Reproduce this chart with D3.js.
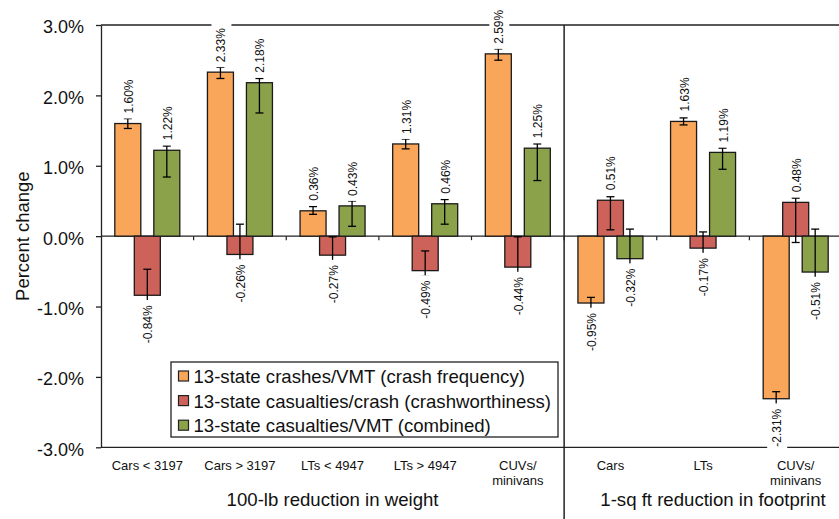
<!DOCTYPE html>
<html>
<head>
<meta charset="utf-8">
<script src="https://cdn.jsdelivr.net/npm/d3@7"></script>
<style>
  body { margin: 0; background: #fff; }
  svg { display: block; font-family: Arial, "Liberation Sans", sans-serif; }
</style>
</head>
<body>
<div id="chart"></div>
<script>
// categories (two groups: weight reduction, footprint reduction)
var categories = ["Cars < 3197", "Cars > 3197", "LTs < 4947", "LTs > 4947", "CUVs/|minivans",
                  "Cars", "LTs", "CUVs/|minivans"];
var groupLabels = ["100-lb reduction in weight", "1-sq ft reduction in footprint"];
var seriesNames = ["13-state crashes/VMT (crash frequency)",
                   "13-state casualties/crash (crashworthiness)",
                   "13-state casualties/VMT (combined)"];
var seriesColors = ["#F9A65A", "#CD625B", "#8BA24B"];

// values in percent
var crashFreq  = [1.60, 2.33, 0.36, 1.31, 2.59, -0.95, 1.63, -2.31];
var crashWorth = [-0.84, -0.26, -0.27, -0.49, -0.44, 0.51, -0.17, 0.48];
var combined   = [1.22, 2.18, 0.43, 0.46, 1.25, -0.32, 1.19, -0.51];

// error bar ends
var crashFreqLow   = [1.53, 2.24, 0.31, 1.24, 2.50, -1.04, 1.58, -2.40];
var crashFreqHigh  = [1.67, 2.40, 0.42, 1.38, 2.66, -0.87, 1.68, -2.21];
var crashWorthLow  = [-0.92, -0.34, -0.35, -0.57, -0.52, 0.09, -0.25, -0.09];
var crashWorthHigh = [-0.47, 0.17, -0.01, -0.21, -0.01, 0.56, 0.06, 0.54];
var combinedLow    = [0.84, 1.75, 0.14, 0.17, 0.79, -0.42, 0.95, -0.60];
var combinedHigh   = [1.28, 2.24, 0.50, 0.52, 1.31, 0.10, 1.25, 0.10];

var yTicks = [-3, -2, -1, 0, 1, 2, 3];

var W = 839, H = 519;
var plotLeft = 101, plotRight = 842, plotTop = 25, plotBottom = 447.3;

var series = [
  {name: seriesNames[0], color: seriesColors[0], values: crashFreq, low: crashFreqLow, high: crashFreqHigh},
  {name: seriesNames[1], color: seriesColors[1], values: crashWorth, low: crashWorthLow, high: crashWorthHigh},
  {name: seriesNames[2], color: seriesColors[2], values: combined, low: combinedLow, high: combinedHigh}
];

var svg = d3.select("#chart").append("svg")
  .attr("width", W).attr("height", H);

var x = d3.scaleBand()
  .domain(d3.range(categories.length))
  .range([plotLeft, plotRight])
  .padding(0);

var xOff = d3.scalePoint()
  .domain(d3.range(series.length))
  .range([-19.5, 19.5]);

var barW = 26;

var y = d3.scaleLinear()
  .domain([-3, 3])
  .range([plotBottom, plotTop]);

// frame lines
var lineCol = "#222";
svg.append("line").attr("x1", plotLeft).attr("x2", W).attr("y1", y(3)).attr("y2", y(3))
  .attr("stroke", lineCol).attr("stroke-width", 1.3);
svg.append("line").attr("x1", plotLeft).attr("x2", W).attr("y1", y(-3)).attr("y2", y(-3))
  .attr("stroke", lineCol).attr("stroke-width", 1.3);
svg.append("line").attr("x1", plotLeft).attr("x2", W).attr("y1", y(0)).attr("y2", y(0))
  .attr("stroke", lineCol).attr("stroke-width", 1.3);

// category boundary ticks on the zero line
svg.selectAll(".ctick")
  .data(d3.range(1, categories.length))
  .enter().append("line")
  .attr("class", "ctick")
  .attr("x1", function(d) { return x(d) })
  .attr("x2", function(d) { return x(d) })
  .attr("y1", y(0))
  .attr("y2", y(0) + 4)
  .attr("stroke", lineCol).attr("stroke-width", 1.2);

// divider between the two groups
svg.append("line")
  .attr("x1", x(5)).attr("x2", x(5))
  .attr("y1", y(3)).attr("y2", H)
  .attr("stroke", lineCol).attr("stroke-width", 1.5);

// y axis
var yAxis = svg.append("g")
  .attr("transform", "translate(" + plotLeft + ",0)")
  .call(d3.axisLeft(y)
    .tickValues(yTicks)
    .tickSize(5)
    .tickSizeOuter(0)
    .tickPadding(12)
    .tickFormat(function(d) { return d.toFixed(1) + "%" }));
yAxis.selectAll("path, line").attr("stroke", lineCol).attr("stroke-width", 1.3);
yAxis.selectAll("text")
  .attr("font-size", 18)
  .attr("font-family", "Arial, 'Liberation Sans', sans-serif")
  .attr("fill", "#111")
  .attr("dy", "0.44em");

svg.append("text")
  .attr("transform", "translate(29," + y(0) + ") rotate(-90)")
  .attr("text-anchor", "middle")
  .attr("font-size", 18.5)
  .attr("fill", "#111")
  .text("Percent change");

// bars
var bars = svg.append("g");
series.forEach(function(s, si) {
  bars.selectAll(".bar" + si)
    .data(s.values)
    .enter().append("rect")
    .attr("class", "bar" + si)
    .attr("x", function(d, i) { return x(i) + x.bandwidth() / 2 + xOff(si) - barW / 2 })
    .attr("width", barW)
    .attr("y", function(d) { return y(Math.max(0, d)) })
    .attr("height", function(d) { return Math.abs(y(d) - y(0)) })
    .attr("fill", s.color)
    .attr("stroke", "#1a1a1a")
    .attr("stroke-width", 1.3);
});

// error bars
var errs = svg.append("g").attr("stroke", "#000").attr("stroke-width", 1.3);
series.forEach(function(s, si) {
  s.values.forEach(function(v, i) {
    var cx = x(i) + x.bandwidth() / 2 + xOff(si);
    errs.append("line").attr("x1", cx).attr("x2", cx)
      .attr("y1", y(s.low[i])).attr("y2", y(s.high[i]));
    [s.low[i], s.high[i]].forEach(function(e) {
      errs.append("line").attr("x1", cx - 4).attr("x2", cx + 4)
        .attr("y1", y(e)).attr("y2", y(e));
    });
  });
});

// value labels with white background
var labels = svg.append("g");
series.forEach(function(s, si) {
  s.values.forEach(function(v, i) {
    var cx = x(i) + x.bandwidth() / 2 + xOff(si);
    var ay = v >= 0 ? y(v) - 10 : y(v) + 10;
    var g = labels.append("g")
      .attr("transform", "translate(" + cx + "," + ay + ") rotate(-90)");
    var t = g.append("text")
      .attr("x", 0).attr("y", 5)
      .attr("text-anchor", v >= 0 ? "start" : "end")
      .attr("font-size", 12)
      .attr("fill", "#111")
      .text(v.toFixed(2) + "%");
    var bb = t.node().getBBox();
    g.insert("rect", "text")
      .attr("x", bb.x - 5).attr("y", bb.y - 3)
      .attr("width", bb.width + 10).attr("height", bb.height + 6)
      .attr("fill", "#fff");
  });
});

// category labels
svg.selectAll(".cat")
  .data(categories)
  .enter().append("text")
  .attr("class", "cat")
  .attr("text-anchor", "middle")
  .attr("font-size", 13)
  .attr("fill", "#111")
  .each(function(d, i) {
    var t = d3.select(this);
    d.split("|").forEach(function(part, k) {
      t.append("tspan")
        .attr("x", x(i) + x.bandwidth() / 2)
        .attr("y", 470 + k * 15)
        .text(part);
    });
  });

// group labels
svg.append("text")
  .attr("x", (x(0) + x(5)) / 2).attr("y", 506)
  .attr("text-anchor", "middle").attr("font-size", 18.6).attr("fill", "#111")
  .text(groupLabels[0]);
svg.append("text")
  .attr("x", 713).attr("y", 506)
  .attr("text-anchor", "middle").attr("font-size", 18.6).attr("fill", "#111")
  .text(groupLabels[1]);

// legend
var legend = svg.append("g").attr("transform", "translate(171,362)");
legend.append("rect")
  .attr("width", 387).attr("height", 75)
  .attr("fill", "#fff").attr("stroke", "#222").attr("stroke-width", 1.3);
var rows = legend.selectAll(".lrow")
  .data(series)
  .enter().append("g")
  .attr("class", "lrow")
  .attr("transform", function(d, i) { return "translate(0," + (14 + i * 24.6) + ")" });
rows.append("rect")
  .attr("x", 7.5).attr("y", -5).attr("width", 10).attr("height", 10)
  .attr("fill", function(d) { return d.color })
  .attr("stroke", "#222").attr("stroke-width", 1.2);
rows.append("text")
  .attr("x", 22.5).attr("y", 7)
  .attr("font-size", 18.6).attr("fill", "#111")
  .text(function(d) { return d.name });
</script>
</body>
</html>
